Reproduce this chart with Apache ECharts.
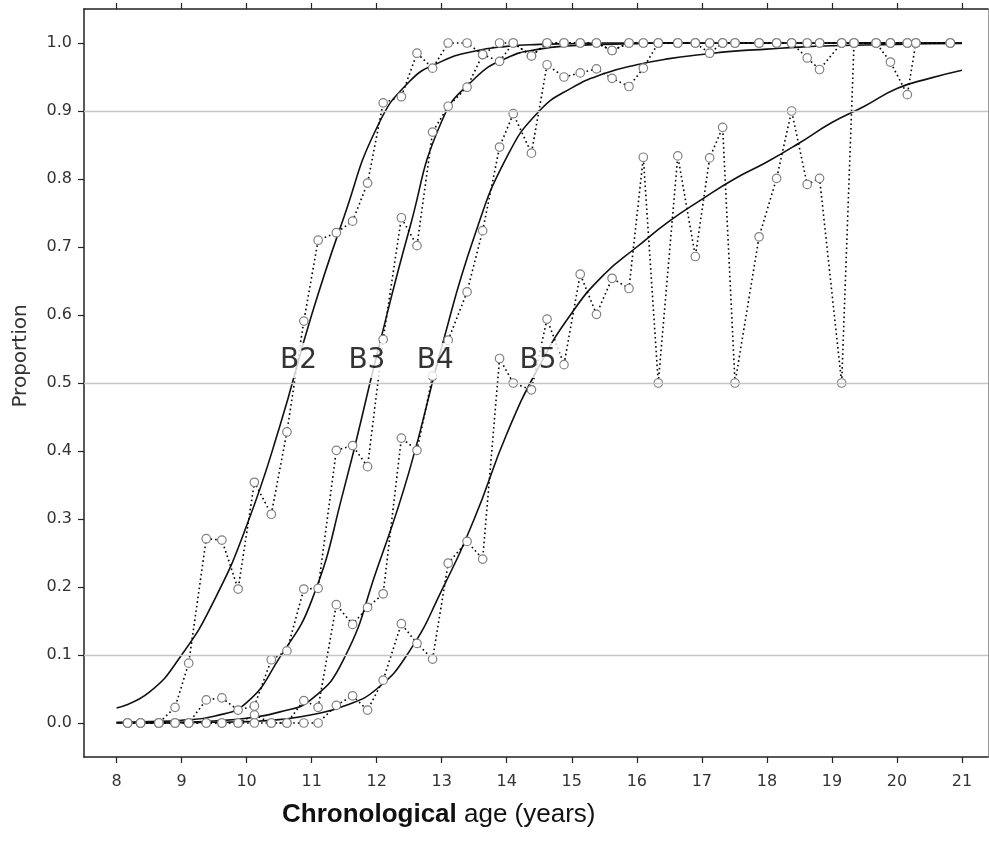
<!DOCTYPE html>
<html><head><meta charset="utf-8">
<script src="https://cdn.jsdelivr.net/npm/echarts@6/dist/echarts.min.js"></script>
<style>html,body{margin:0;padding:0;background:#fff}#c{width:989px;height:846px}</style>
</head><body><div id="c"></div>
<script>
// observed age points (years)
const ages = [8.17, 8.37, 8.65, 8.90, 9.11, 9.38, 9.62, 9.87, 10.12, 10.38, 10.62, 10.88, 11.10,
  11.38, 11.63, 11.86, 12.10, 12.38, 12.62, 12.86, 13.10, 13.39, 13.63, 13.89, 14.10, 14.38,
  14.62, 14.88, 15.13, 15.38, 15.62, 15.88, 16.10, 16.33, 16.63, 16.90, 17.12, 17.32, 17.51,
  17.88, 18.15, 18.38, 18.62, 18.81, 19.15, 19.34, 19.68, 19.90, 20.16, 20.29, 20.82];

// observed proportions
const obsB2 = [0, 0, 0, 0.023, 0.088, 0.271, 0.269, 0.197, 0.354, 0.307, 0.428, 0.591, 0.710,
  0.721, 0.738, 0.794, 0.912, 0.921, 0.985, 0.963, 1, 1, 0.983, 1, 1, 0.981,
  1, 1, 1, 1, 0.989, 1, 1, 1, 1, 1, 1, 1, 1,
  1, 1, 1, 1, 1, 1, 1, 1, 1, 1, 1, 1];
const obsB3 = [0, 0, 0, 0, 0, 0.034, 0.037, 0.019, 0.025, 0.093, 0.106, 0.197, 0.198,
  0.401, 0.408, 0.377, 0.564, 0.743, 0.702, 0.869, 0.907, 0.935, 0.983, 0.973, 1, 0.981,
  1, 1, 1, 1, 0.989, 1, 1, 1, 1, 1, 1, 1, 1,
  1, 1, 1, 1, 1, 1, 1, 1, 1, 1, 1, 1];
const obsB4 = [0, 0, 0, 0, 0, 0, 0, 0, 0.012, 0, 0, 0.033, 0.023,
  0.174, 0.145, 0.170, 0.190, 0.419, 0.401, 0.510, 0.563, 0.634, 0.724, 0.847, 0.896, 0.838,
  0.968, 0.950, 0.956, 0.962, 0.948, 0.936, 0.963, 1, 1, 1, 0.985, 1, 1,
  1, 1, 1, 0.978, 0.961, 1, 1, 1, 1, 1, 1, 1];
const obsB5 = [0, 0, 0, 0, 0, 0, 0, 0, 0, 0, 0, 0, 0,
  0.026, 0.040, 0.019, 0.063, 0.146, 0.117, 0.094, 0.235, 0.267, 0.241, 0.536, 0.500, 0.490,
  0.594, 0.527, 0.660, 0.601, 0.654, 0.639, 0.832, 0.500, 0.834, 0.686, 0.831, 0.876, 0.500,
  0.715, 0.801, 0.900, 0.792, 0.801, 0.500, 1, 1, 0.972, 0.924, 1, 1];

// fitted curves read at half-year steps
const fitAges = [8, 8.5, 9, 9.5, 10, 10.5, 11, 11.5, 12, 12.5, 13, 13.5, 14, 14.5, 15, 15.5,
  16, 16.5, 17, 17.5, 18, 18.5, 19, 19.5, 20, 20.5, 21];
const fitB2 = [0.022, 0.045, 0.100, 0.180, 0.290, 0.433, 0.600, 0.745, 0.875, 0.943, 0.973, 0.988,
  0.995, 0.998, 0.999, 1, 1, 1, 1, 1, 1, 1, 1, 1, 1, 1, 1];
const fitB3 = [0.001, 0.002, 0.004, 0.010, 0.030, 0.095, 0.180, 0.345, 0.540, 0.725, 0.885, 0.947,
  0.978, 0.991, 0.996, 0.998, 0.999, 1, 1, 1, 1, 1, 1, 1, 1, 1, 1];
const fitB4 = [0, 0.0005, 0.001, 0.003, 0.007, 0.016, 0.035, 0.095, 0.225, 0.370, 0.553, 0.715,
  0.832, 0.900, 0.934, 0.955, 0.968, 0.977, 0.983, 0.988, 0.991, 0.994, 0.996, 0.997, 0.998, 0.999, 0.9995];
const fitB5 = [0, 0, 0.0005, 0.001, 0.002, 0.005, 0.012, 0.025, 0.050, 0.105, 0.195, 0.300,
  0.425, 0.525, 0.603, 0.660, 0.700, 0.738, 0.770, 0.800, 0.825, 0.853, 0.883, 0.907, 0.933, 0.948, 0.960];

const xTicks = [8, 9, 10, 11, 12, 13, 14, 15, 16, 17, 18, 19, 20, 21];
const yTicks = [0, 0.1, 0.2, 0.3, 0.4, 0.5, 0.6, 0.7, 0.8, 0.9, 1.0];
const refLines = [0.1, 0.5, 0.9];
const curveNames = ['B2', 'B3', 'B4', 'B5'];
const labelAges = [10.8, 11.85, 12.9, 14.48];
const labelLevel = 0.533;

const obsSets = [obsB2, obsB3, obsB4, obsB5];
const fitSets = [fitB2, fitB3, fitB4, fitB5];
const pairs = (xs, ys) => xs.map((x, i) => [x, ys[i]]);

const series = [];
series.push({
  type: 'line', data: [], silent: true, z: 1,
  markLine: {
    silent: true, symbol: 'none', label: { show: false },
    lineStyle: { color: '#c6c6c6', width: 1.3, type: 'solid' },
    data: refLines.map(v => ({ yAxis: v }))
  }
});
fitSets.forEach((f, i) => series.push({
  name: 'fit ' + curveNames[i], type: 'line', data: pairs(fitAges, f),
  symbol: 'none', smooth: 0.5, z: 2,
  lineStyle: { color: '#111', width: 1.6 }
}));
obsSets.forEach((o, i) => series.push({
  name: curveNames[i], type: 'line', data: pairs(ages, o),
  symbol: 'circle', symbolSize: 8.5, showAllSymbol: true, z: 3,
  itemStyle: { color: '#fff', borderColor: '#808080', borderWidth: 1.2 },
  lineStyle: { color: '#000', width: 1.6, type: [1.6, 3] }
}));
series.push({
  type: 'scatter', z: 10, symbol: 'circle', symbolSize: 1,
  itemStyle: { color: 'rgba(255,255,255,0)' },
  data: labelAges.map((a, i) => ({ value: [a, labelLevel], name: curveNames[i] })),
  label: {
    show: true, position: 'inside', formatter: '{b}',
    fontFamily: 'DejaVu Sans', fontSize: 28, color: '#000',
    backgroundColor: '#fff', padding: [4, 3, 3, 3]
  }
});

const axisCol = '#222';
const chart = echarts.init(document.getElementById('c'), null, { renderer: 'canvas' });
chart.setOption({
  animation: false,
  backgroundColor: '#fff',
  title: {
    text: '{b|Chronological} age (years)', left: 277, top: 797,
    textStyle: {
      fontFamily: 'Liberation Sans', fontSize: 26, fontWeight: 'normal', color: '#111',
      rich: { b: { fontFamily: 'Liberation Sans', fontSize: 26, fontWeight: 'bold', color: '#111' } }
    }
  },
  graphic: [{
    type: 'text', x: 21, y: 356, rotation: Math.PI / 2, silent: true,
    style: { text: 'Proportion', align: 'center', verticalAlign: 'middle',
      fontFamily: 'DejaVu Sans', fontSize: 20, fill: '#333' }
  }],
  grid: { left: 84, right: 1, top: 9, bottom: 89 },
  xAxis: [{
    type: 'value', min: 7.5, max: 21.4, position: 'bottom',
    axisLine: { show: true, onZero: false, lineStyle: { color: axisCol, width: 1.5 } },
    axisTick: { show: true, customValues: xTicks, length: 6, lineStyle: { color: axisCol, width: 1.2 } },
    axisLabel: { customValues: xTicks, margin: 17, fontFamily: 'DejaVu Sans', fontSize: 16, color: '#333' },
    splitLine: { show: false }
  }, {
    type: 'value', min: 7.5, max: 21.4, position: 'top',
    axisLine: { show: true, onZero: false, lineStyle: { color: axisCol, width: 1.5 } },
    axisTick: { show: true, customValues: xTicks, length: 6, lineStyle: { color: axisCol, width: 1.2 } },
    axisLabel: { show: false }, splitLine: { show: false }
  }],
  yAxis: [{
    type: 'value', min: -0.05, max: 1.05, position: 'left',
    axisLine: { show: true, onZero: false, lineStyle: { color: axisCol, width: 1.5 } },
    axisTick: { show: true, customValues: yTicks, length: 6, lineStyle: { color: axisCol, width: 1.2 } },
    axisLabel: { customValues: yTicks, margin: 12, formatter: v => v.toFixed(1),
      fontFamily: 'DejaVu Sans', fontSize: 16, color: '#333' },
    splitLine: { show: false }
  }, {
    type: 'value', min: -0.05, max: 1.05, position: 'right',
    axisLine: { show: true, onZero: false, lineStyle: { color: '#999', width: 1 } },
    axisTick: { show: false }, axisLabel: { show: false }, splitLine: { show: false }
  }],
  series: series
});
</script></body></html>
